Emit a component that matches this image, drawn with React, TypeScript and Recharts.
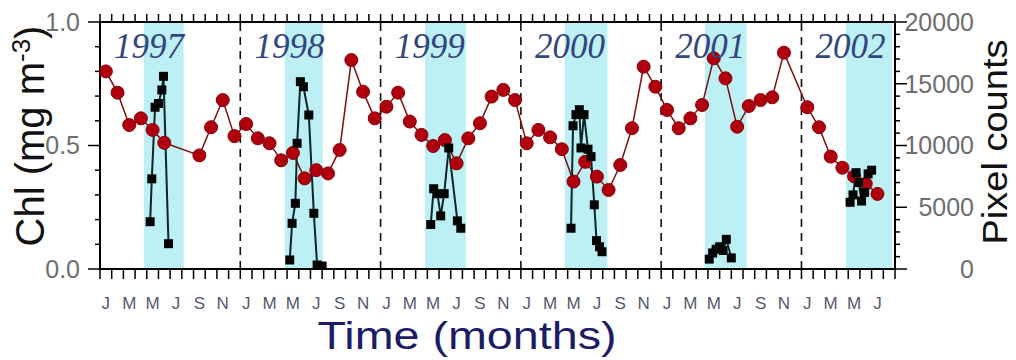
import {
  ComposedChart,
  Line,
  XAxis,
  YAxis,
  ReferenceArea,
  ReferenceLine,
  ReferenceDot,
} from "recharts";

const W = 1016;
const H = 360;
const PLOT_L = 100;
const PLOT_R = 895;
const MONTH_SPAN = 68; // Jan 1997 .. Sep 2002
const HALF_MONTH = (PLOT_R - PLOT_L) / MONTH_SPAN / 2;
const SANS = "'Liberation Sans', Arial, sans-serif";
const SERIF = "'Liberation Serif', 'Times New Roman', serif";

const MONTH_LETTERS = ["J", "F", "M", "A", "M", "J", "J", "A", "S", "O", "N", "D"];
const YEARS = [1997, 1998, 1999, 2000, 2001, 2002];

// monthly Chl (mg m-3), Jan 1997 .. Jul 2002, null = no data
const chlMonthly = [
  0.8, 0.714, 0.583, 0.61, 0.563, 0.511, null, null, 0.46, 0.574, 0.684, 0.538,
  0.587, 0.529, 0.509, 0.44, 0.47, 0.367, 0.4, 0.387, 0.482, 0.846, 0.718, 0.61,
  0.657, 0.714, 0.597, 0.543, 0.498, 0.522, 0.428, 0.529, 0.59, 0.698, 0.725, 0.684,
  0.509, 0.563, 0.533, 0.485, 0.354, 0.434, 0.374, 0.32, 0.421, 0.57, 0.819, 0.738,
  0.644, 0.57, 0.61, 0.664, 0.853, 0.772, 0.576, 0.66, 0.684, 0.695, 0.876, null,
  0.655, 0.574, 0.455, 0.41, 0.375, 0.345, 0.304,
];

// pixel counts during the spring window: [month position, count]
const count1997 = [[4.29, 3830], [4.43, 7300], [4.71, 13100], [5.0, 13400], [5.29, 14500], [5.43, 15600], [5.86, 2050]];
const count1998 = [[16.23, 730], [16.43, 3700], [16.71, 5320], [16.86, 10180], [17.14, 15170], [17.4, 14760], [17.86, 12470], [18.29, 4510], [18.57, 324], [19.0, 243]];
const count1999 = [[28.29, 3600], [28.54, 6500], [28.86, 6100], [29.14, 4300], [29.44, 6100], [29.83, 9800], [30.57, 3900], [30.86, 3300]];
const count2000 = [[40.29, 3300], [40.46, 11600], [40.71, 12500], [41.0, 12900], [41.14, 9800], [41.4, 12500], [41.74, 9700], [42.0, 9100], [42.28, 5200], [42.47, 2300], [42.73, 1800], [42.94, 1400]];
const count2001 = [[52.11, 800], [52.4, 1300], [52.7, 1600], [53.0, 1800], [53.3, 1500], [53.57, 2400], [54.0, 900]];
const count2002 = [[64.16, 5400], [64.41, 6000], [64.67, 7800], [64.89, 7000], [65.14, 5500], [65.4, 6200], [65.7, 7700], [66.0, 8000]];

// shaded spring windows (month positions)
const bandRanges = [[3.75, 7.15], [15.8, 19.05], [27.8, 31.3], [39.75, 43.4], [51.75, 55.3], [63.8, 67.75]];
const yearBoundaries = [12, 24, 36, 48, 60];

const CHL_TICKS = [0, 0.1, 0.2, 0.3, 0.4, 0.5, 0.6, 0.7, 0.8, 0.9, 1.0];
const COUNT_TICKS = Array.from({ length: 21 }, (_, i) => i * 1000);
const MONTH_TICKS = Array.from({ length: MONTH_SPAN + 1 }, (_, i) => i);

const chlPoints = chlMonthly
  .map((v, i) => ({ x: i + 0.5, v }))
  .filter((p) => p.v != null);
const countSeries = [count1997, count1998, count1999, count2000, count2001, count2002].map((arr) =>
  arr.map(([x, v]) => ({ x, v }))
);

const RedDot = (props: any) => {
  const { cx, cy } = props;
  if (cx == null || cy == null) return <g />;
  return <circle cx={cx} cy={cy} r={6.5} fill="#b0000e" stroke="#850008" strokeWidth={1} />;
};

const SquareDot = (props: any) => {
  const { cx, cy } = props;
  if (cx == null || cy == null) return <g />;
  return <rect x={cx - 4.5} y={cy - 4.5} width={9} height={9} fill="#050505" />;
};

const EmptyTick = () => <g />;

const MonthTick = (props: any) => {
  const { x, payload } = props;
  const m = payload.value;
  if (m % 2 !== 0 || m > 66) return <g />;
  return (
    <text x={x + HALF_MONTH} y={303} dy="0.35em" textAnchor="middle" fontSize={17} fill="#55586e" fontFamily={SANS}>
      {MONTH_LETTERS[m % 12]}
    </text>
  );
};

const ChlTick = (props: any) => {
  const { y, payload } = props;
  const v = payload.value;
  const major = Math.abs(v * 2 - Math.round(v * 2)) < 1e-6;
  return (
    <g>
      <line x1={PLOT_L - (major ? 12 : 5)} x2={PLOT_L} y1={y} y2={y} stroke="#000" strokeWidth={1.5} />
      {major && (
        <text x={80} y={y} dy="0.35em" textAnchor="end" fontSize={25} fill="#6e6e6e" fontFamily={SANS}>
          {v.toFixed(1)}
        </text>
      )}
    </g>
  );
};

const CountTick = (props: any) => {
  const { y, payload } = props;
  const v = payload.value;
  const major = v % 5000 === 0;
  return (
    <g>
      <line x1={PLOT_R} x2={PLOT_R + (major ? 12 : 5)} y1={y} y2={y} stroke="#000" strokeWidth={1.5} />
      {major && (
        <text x={974} y={y} dy="0.35em" textAnchor="end" fontSize={25} fill="#6e6e6e" fontFamily={SANS}>
          {v}
        </text>
      )}
    </g>
  );
};

const ChlLabel = () => (
  <text transform="rotate(-90)" x={-136} y={44} textAnchor="middle" fontSize={40} fill="#111" fontFamily={SANS}>
    Chl (mg m
    <tspan dy={-14} fontSize={26}>-3</tspan>
    <tspan dy={14}>)</tspan>
  </text>
);

const CountLabel = () => (
  <text
    transform="rotate(-90)"
    x={-142}
    y={1007}
    textAnchor="middle"
    fontSize={35}
    fill="#111"
    fontFamily={SANS}
    textLength={205}
    lengthAdjust="spacingAndGlyphs"
  >
    Pixel counts
  </text>
);

const TimeLabel = () => (
  <text
    x={467}
    y={349}
    textAnchor="middle"
    fontSize={38}
    fill="#1c1c66"
    fontFamily={SANS}
    textLength={299}
    lengthAdjust="spacingAndGlyphs"
  >
    Time (months)
  </text>
);

export default function App() {
  return (
    <div style={{ position: "absolute", left: 0, top: 0, background: "#fff" }}>
      <ComposedChart width={W} height={H} margin={{ top: 0, right: 0, bottom: 0, left: 0 }}>
        <XAxis
          xAxisId="b"
          type="number"
          dataKey="x"
          domain={[0, MONTH_SPAN]}
          ticks={MONTH_TICKS}
          interval={0}
          height={91}
          tickSize={10}
          tickLine={{ stroke: "#000", strokeWidth: 1.5 }}
          axisLine={{ stroke: "#000", strokeWidth: 2 }}
          tick={<MonthTick />}
          label={<TimeLabel />}
          allowDataOverflow
        />
        <XAxis
          xAxisId="t"
          orientation="top"
          type="number"
          dataKey="x"
          domain={[0, MONTH_SPAN]}
          ticks={MONTH_TICKS}
          interval={0}
          height={22}
          tickSize={8}
          tickLine={{ stroke: "#000", strokeWidth: 1.5 }}
          axisLine={{ stroke: "#000", strokeWidth: 2 }}
          tick={<EmptyTick />}
          allowDataOverflow
        />
        <YAxis
          yAxisId="l"
          domain={[0, 1]}
          ticks={CHL_TICKS}
          interval={0}
          width={100}
          tickLine={false}
          axisLine={{ stroke: "#000", strokeWidth: 2 }}
          tick={<ChlTick />}
          label={<ChlLabel />}
          allowDataOverflow
        />
        <YAxis
          yAxisId="r"
          orientation="right"
          domain={[0, 20000]}
          ticks={COUNT_TICKS}
          interval={0}
          width={121}
          tickLine={false}
          axisLine={{ stroke: "#000", strokeWidth: 2 }}
          tick={<CountTick />}
          label={<CountLabel />}
          allowDataOverflow
        />

        {bandRanges.map(([a, b], i) => (
          <ReferenceArea
            key={`band-${i}`}
            xAxisId="b"
            yAxisId="l"
            x1={a}
            x2={b}
            y1={0}
            y2={1}
            fill="#bcf0f4"
            fillOpacity={1}
            stroke="none"
          />
        ))}
        {yearBoundaries.map((m) => (
          <ReferenceLine
            key={`yb-${m}`}
            xAxisId="b"
            yAxisId="l"
            x={m}
            stroke="#111"
            strokeWidth={1.6}
            strokeDasharray="8 6"
          />
        ))}
        {YEARS.map((yr, i) => (
          <ReferenceDot
            key={`yr-${yr}`}
            xAxisId="b"
            yAxisId="l"
            x={i * 12 + 4.2}
            y={0.905}
            r={0}
            fill="none"
            stroke="none"
            label={{
              value: String(yr),
              position: "center",
              fill: "#34467f",
              fontSize: 35,
              fontFamily: SERIF,
              fontStyle: "italic",
            }}
          />
        ))}

        <Line
          xAxisId="b"
          yAxisId="l"
          data={chlPoints}
          dataKey="v"
          stroke="#7d1010"
          strokeWidth={1.5}
          dot={<RedDot />}
          activeDot={false}
          connectNulls
          isAnimationActive={false}
        />
        {countSeries.map((s, i) => (
          <Line
            key={`cnt-${i}`}
            xAxisId="b"
            yAxisId="r"
            data={s}
            dataKey="v"
            stroke="#0f2626"
            strokeWidth={2}
            dot={<SquareDot />}
            activeDot={false}
            isAnimationActive={false}
          />
        ))}
      </ComposedChart>
    </div>
  );
}
